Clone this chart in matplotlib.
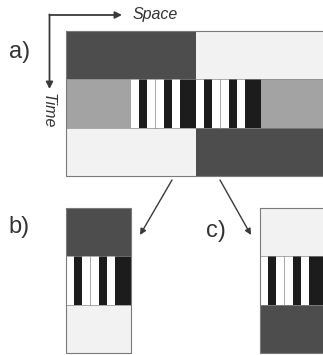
import numpy as np
import matplotlib.pyplot as plt
from matplotlib.patches import Rectangle

# grey levels (0 = black, 1 = white)
DARK, LIGHT, MID = 0.30, 0.95, 0.64
BLACK, WHITE = 0.11, 1.0

# one half of the stripe code, per space unit
stripe_half = [WHITE, BLACK, WHITE, WHITE, BLACK, WHITE, BLACK, BLACK]

# panel a: three time rows, 32 space units
row_a_top = [DARK] * 16 + [LIGHT] * 16
row_a_mid = [MID] * 8 + stripe_half + stripe_half + [MID] * 8
row_a_bot = [LIGHT] * 16 + [DARK] * 16

# panels b and c: 8 space units each
rows_b = [[DARK] * 8, stripe_half, [LIGHT] * 8]
rows_c = [[LIGHT] * 8, stripe_half, [DARK] * 8]

labels = ["a)", "b)", "c)"]


def draw_panel(ax, grid, x0, y0, unit, row_h):
    grid = np.array(grid)
    nrows, ncols = grid.shape
    x1, y1 = x0 + ncols * unit, y0 + nrows * row_h
    xs = x0 + np.arange(ncols) * unit
    for r in range(nrows):
        cols = [str(v) for v in grid[r]]
        ax.bar(xs, row_h, width=unit, bottom=y0 + r * row_h, align="edge",
               color=cols, linewidth=0, zorder=1)
        # thin separators between neighbouring white stripes
        for c in range(1, ncols):
            if grid[r, c] == WHITE and grid[r, c - 1] == WHITE:
                xl = x0 + c * unit
                ax.plot([xl, xl], [y0 + r * row_h, y0 + (r + 1) * row_h],
                        color="#9a9a9a", lw=0.6, zorder=2)
    for r in range(1, nrows):
        ax.plot([x0, x1], [y0 + r * row_h] * 2, color="#8a8a8a", lw=0.5, zorder=2)
    ax.add_patch(Rectangle((x0, y0), x1 - x0, y1 - y0, fill=False,
                           edgecolor="#7a7a7a", lw=0.8, zorder=3))


fig = plt.figure(figsize=(3.23, 3.55), dpi=100)
ax = fig.add_axes([0, 0, 1, 1])

unit = 8.125
draw_panel(ax, [row_a_top, row_a_mid, row_a_bot], 66, 31, unit, 48.3)
draw_panel(ax, rows_b, 66, 208, unit, 48.3)
draw_panel(ax, rows_c, 260, 208, unit, 48.3)

ax.set_xlim(0, 323)
ax.set_ylim(355, 0)
ax.axis("off")

# space / time axes
arrow = dict(arrowstyle="-|>", color="#3a3a3a", lw=1.3, mutation_scale=10,
             shrinkA=0, shrinkB=0)
ax.annotate("", xy=(122, 15), xytext=(49.5, 15), arrowprops=arrow)
ax.annotate("", xy=(49.5, 89), xytext=(49.5, 14.4), arrowprops=arrow)
ax.text(133, 15, "Space", fontsize=11.5, style="italic", color="#333333",
        family="Liberation Sans", va="center", ha="left")
ax.text(48, 111, "Time", fontsize=11.5, style="italic", color="#333333",
        family="Liberation Sans", va="center", ha="center", rotation=270)

# arrows towards b) and c)
darrow = dict(arrowstyle="-|>", color="#3a3a3a", lw=1.0, mutation_scale=9,
              shrinkA=0, shrinkB=0)
ax.annotate("", xy=(140, 235), xytext=(172, 180), arrowprops=darrow)
ax.annotate("", xy=(251, 235), xytext=(220, 180), arrowprops=darrow)

for lab, (x, y) in zip(labels, [(20, 52), (19, 227), (216, 231)]):
    ax.text(x, y, lab, fontsize=17, color="#333333", family="Liberation Sans",
            ha="center", va="center")

fig.savefig("out.png", dpi=100)
